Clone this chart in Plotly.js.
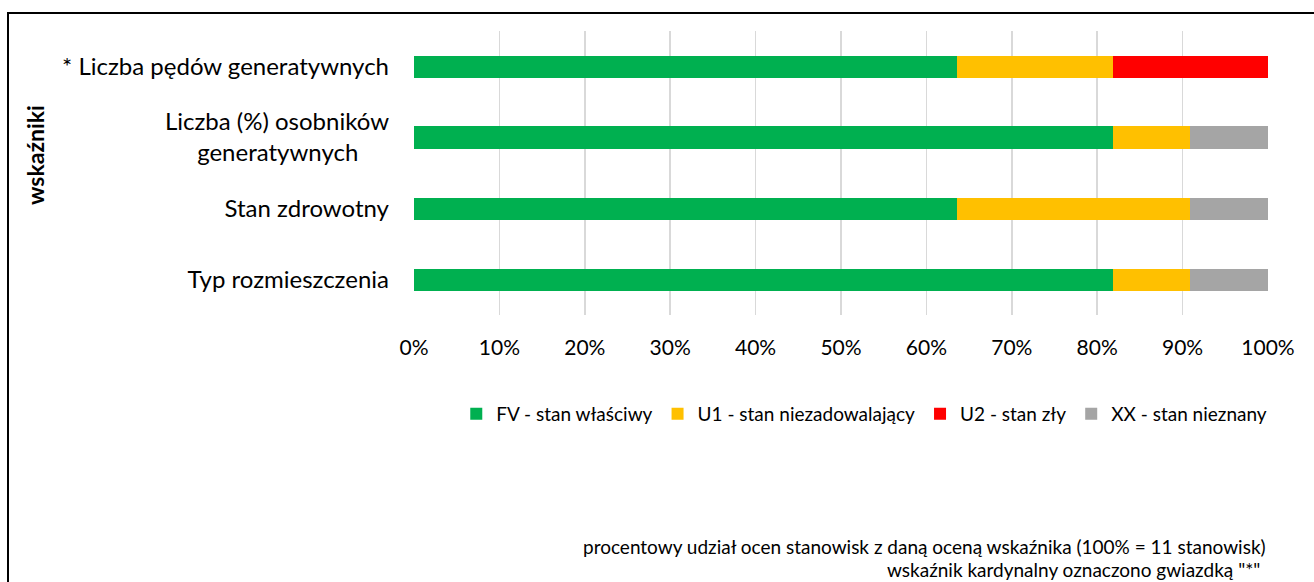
<!DOCTYPE html>
<html>
<head>
<meta charset="utf-8">
<script src="https://cdn.plot.ly/plotly-3.0.1.min.js"></script>
<style>html,body{margin:0;padding:0;background:#fff;}#chart{width:1314px;height:582px;}</style>
</head>
<body>
<div id="chart"></div>
<script>
// Categories listed top to bottom
const categories = [
  "* Liczba pędów generatywnych",
  "Liczba (%) osobników<br>generatywnych\u00a0\u00a0\u00a0\u00a0\u00a0",
  "Stan zdrowotny",
  "Typ rozmieszczenia"
];
const seriesNames = ["FV - stan właściwy", "U1 - stan niezadowalający", "U2 - stan zły", "XX - stan nieznany"];
const fvValues = [63.64, 81.82, 63.64, 81.82];
const u1Values = [18.18, 9.09, 27.27, 9.09];
const u2Values = [18.18, 0, 0, 0];
const xxValues = [0, 9.09, 9.09, 9.09];
const seriesColors = ["#00B050", "#FFC000", "#FF0000", "#A5A5A5"];
const xTickVals = [0,10,20,30,40,50,60,70,80,90,100];
const xTickText = ["0%","10%","20%","30%","40%","50%","60%","70%","80%","90%","100%"];
const axisTitle = "wskaźniki";
const note1 = "procentowy udział ocen stanowisk z daną oceną wskaźnika (100% = 11 stanowisk)";
const note2 = "wskaźnik kardynalny oznaczono gwiazdką \"*\"";

const FONT = "Lato, 'Open Sans', sans-serif";
const allValues = [fvValues, u1Values, u2Values, xxValues];
const traces = allValues.map((vals, i) => ({
  type: "bar",
  orientation: "h",
  name: seriesNames[i],
  x: vals,
  y: categories,
  marker: {color: seriesColors[i], line: {width: 0}},
  hoverinfo: "x+name"
}));

const layout = {
  width: 1314, height: 582,
  margin: {l: 414, r: 46, t: 31, b: 267},
  barmode: "stack",
  bargap: 0.69,
  paper_bgcolor: "#ffffff",
  plot_bgcolor: "#ffffff",
  font: {family: FONT, color: "#000000", size: 20},
  xaxis: {
    range: [0, 100],
    tickvals: xTickVals,
    ticktext: xTickText,
    showgrid: true,
    gridcolor: "#D9D9D9",
    gridwidth: 1.5,
    zeroline: false,
    showline: false,
    ticks: "",
    ticklabelstandoff: 18,
    tickfont: {size: 21, family: FONT}
  },
  yaxis: {
    type: "category",
    categoryorder: "array",
    categoryarray: categories.slice().reverse(),
    showgrid: false,
    zeroline: false,
    showline: false,
    ticks: "",
    ticklabelstandoff: 24,
    tickfont: {size: 24, family: FONT}
  },
  showlegend: true,
  legend: {
    orientation: "h",
    x: 1.005, xanchor: "right",
    y: -0.3486, yanchor: "middle",
    font: {size: 19, family: FONT},
    traceorder: "normal",
    itemwidth: 30,
    tracegroupgap: 0
  },
  annotations: [
    {text: "<b>" + axisTitle + "</b>", xref: "paper", yref: "paper",
     x: (35 - 414) / 854, y: 1 - (155 - 31) / 284, textangle: -90,
     showarrow: false, font: {size: 23, family: FONT}, xanchor: "center", yanchor: "middle"},
    {text: note1, xref: "paper", yref: "paper", x: 1, y: 1 - (546 - 31) / 284,
     xanchor: "right", yanchor: "middle", showarrow: false, font: {size: 19, family: FONT}},
    {text: note2, xref: "paper", yref: "paper", x: (1262 - 414) / 854, y: 1 - (569 - 31) / 284,
     xanchor: "right", yanchor: "middle", showarrow: false, font: {size: 19, family: FONT}}
  ],
  shapes: [
    {type: "rect", xref: "paper", yref: "paper",
     x0: (8 - 414) / 854, x1: 2, y0: -3, y1: 1 + (31 - 13) / 284,
     line: {color: "#000000", width: 2}, fillcolor: "rgba(0,0,0,0)", layer: "above"}
  ]
};

Plotly.newPlot("chart", traces, layout, {displayModeBar: false, staticPlot: true});
</script>
</body>
</html>
